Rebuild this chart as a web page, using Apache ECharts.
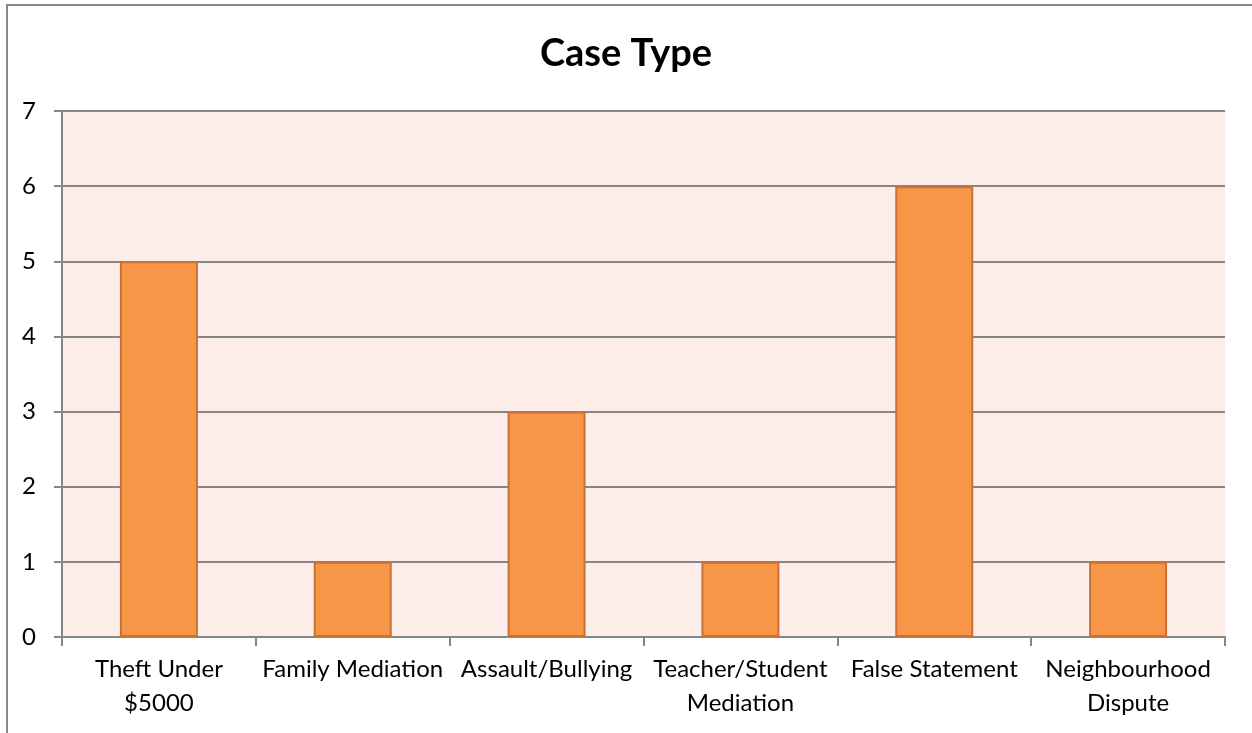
<!DOCTYPE html>
<html>
<head>
<meta charset="utf-8">
<script src="https://cdn.jsdelivr.net/npm/echarts@6/dist/echarts.min.js"></script>
<style>
  html, body { margin: 0; padding: 0; background: #fff; }
  #chart { width: 1252px; height: 733px; }
</style>
</head>
<body>
<div id="chart"></div>
<script>
const categories = [
  'Theft Under\n$5000',
  'Family Mediation',
  'Assault/Bullying',
  'Teacher/Student\nMediation',
  'False Statement',
  'Neighbourhood\nDispute'
];
const caseCounts = [5, 1, 3, 1, 6, 1];
const yTicks = { min: 0, max: 7, interval: 1 };

const chart = echarts.init(document.getElementById('chart'), null, { renderer: 'canvas' });

const fontFamily = 'Lato, "Noto Sans", sans-serif';

chart.setOption({
  animation: false,
  backgroundColor: '#fff',
  title: {
    text: 'Case Type',
    left: 'center',
    top: 30,
    textStyle: { fontFamily, fontSize: 38, fontWeight: 'bold', color: '#000' }
  },
  graphic: [{
    type: 'rect',
    shape: { x: 7, y: 5, width: 1300, height: 800 },
    style: { fill: 'none', stroke: '#888', lineWidth: 2 },
    silent: true
  }],
  grid: {
    left: 62,
    right: 27,
    top: 111,
    bottom: 96,
    show: true,
    backgroundColor: '#FCEDE8',
    borderWidth: 0
  },
  xAxis: {
    type: 'category',
    data: categories,
    axisLine: { lineStyle: { color: '#868686', width: 2 } },
    axisTick: { show: true, length: 9, alignWithLabel: false, lineStyle: { color: '#868686', width: 2 } },
    axisLabel: {
      fontFamily,
      fontSize: 24,
      lineHeight: 34,
      color: '#000',
      margin: 15,
      interval: 0
    }
  },
  yAxis: {
    type: 'value',
    min: yTicks.min,
    max: yTicks.max,
    interval: yTicks.interval,
    axisLine: { show: true, lineStyle: { color: '#868686', width: 2 } },
    axisTick: { show: true, length: 8, lineStyle: { color: '#868686', width: 2 } },
    splitLine: { show: true, lineStyle: { color: '#868686', width: 2 } },
    axisLabel: {
      fontFamily,
      fontSize: 24,
      color: '#000',
      margin: 26
    }
  },
  series: [{
    type: 'bar',
    data: caseCounts,
    barWidth: 78,
    itemStyle: {
      color: '#F79646',
      borderColor: '#C8723A',
      borderWidth: 2
    }
  }]
});
</script>
</body>
</html>
